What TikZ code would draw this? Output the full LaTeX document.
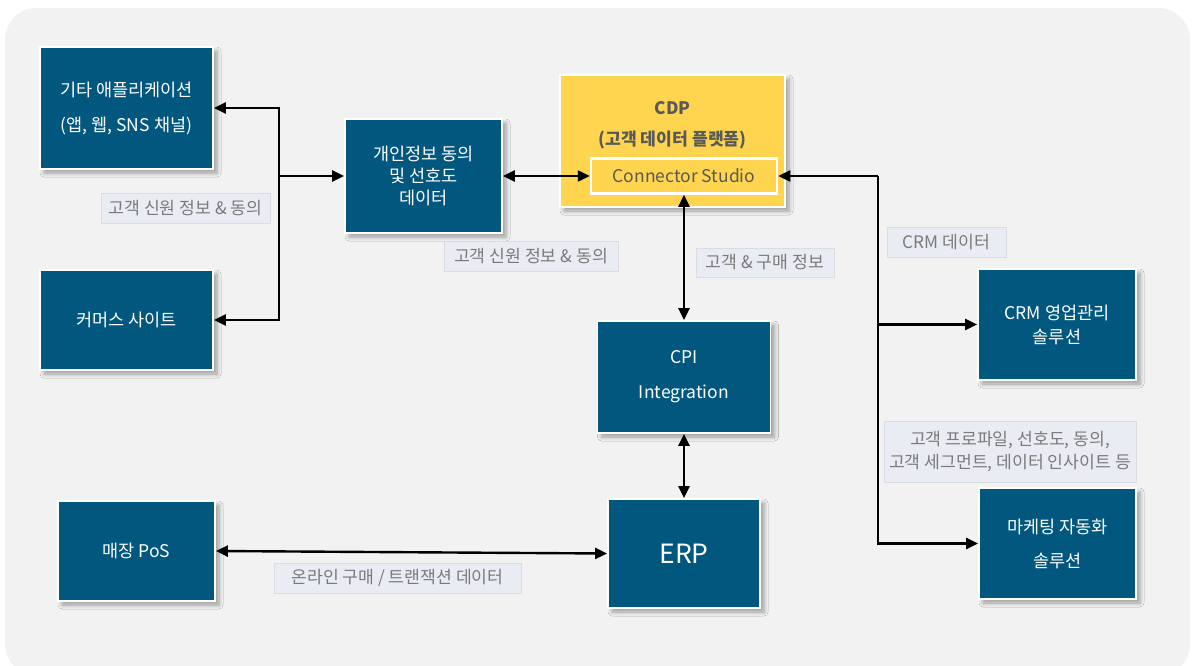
\documentclass[tikz,border=0pt]{standalone}
\usepackage{fontspec}
\setmainfont{Noto Sans CJK KR}
\usetikzlibrary{arrows.meta,shadows.blur}
\definecolor{bgc}{HTML}{F2F2F2}
\definecolor{boxc}{HTML}{02577F}
\definecolor{cdpc}{HTML}{FFD54F}
\definecolor{cdptext}{HTML}{595959}
\definecolor{lblfill}{HTML}{E9EDF3}
\definecolor{lbldraw}{HTML}{D9DDE3}
\definecolor{lbltext}{HTML}{7A7A7A}
\tikzset{
  sysbox/.style={draw=white, line width=1.8pt, fill=boxc, text=white, align=center,
    font=\fontsize{17.5}{22}\selectfont, inner sep=0pt,
    blur shadow={shadow xshift=4pt, shadow yshift=-4pt, shadow blur radius=4pt, shadow blur steps=6, shadow opacity=35}},
  cdpbox/.style={draw=white, line width=1.8pt, fill=cdpc, text=cdptext, align=center, inner sep=0pt,
    blur shadow={shadow xshift=4pt, shadow yshift=-4pt, shadow blur radius=4pt, shadow blur steps=6, shadow opacity=35}},
  studiobox/.style={draw=white, line width=2.5pt, fill=cdpc, text=cdptext, inner sep=0pt,
    font=\fontsize{17.5}{20}\selectfont},
  lbl/.style={draw=lbldraw, line width=0.8pt, fill=lblfill, text=lbltext, align=center,
    font=\fontsize{17.2}{23}\selectfont, inner sep=0pt},
  conn/.style={line width=2.4pt, -{Triangle[length=12pt,width=11pt]}},
  conn2/.style={line width=2.4pt, {Triangle[length=12pt,width=11pt]}-{Triangle[length=12pt,width=11pt]}},
}
\begin{document}
\begin{tikzpicture}[x=1pt,y=-1pt]
\useasboundingbox (0,0) rectangle (1199,666);
\fill[white] (0,0) rectangle (1199,666);
\fill[bgc, rounded corners=32pt] (5,8) rectangle (1190,676);
\fill[white] (0,666) rectangle (1199,680);

% boxes
\node[sysbox, minimum width=173pt, minimum height=122pt] (app) at (126.5,108)
  {기타 애플리케이션\\[13pt](앱, 웹, SNS 채널)};
\node[sysbox, minimum width=173pt, minimum height=100pt] (com) at (126.5,320) {커머스 사이트};
\node[sysbox, minimum width=157pt, minimum height=114pt] (priv) at (423.5,176)
  {개인정보 동의\\[0pt]및 선호도\\[0pt]데이터};
\node[cdpbox, minimum width=225pt, minimum height=132pt] (cdp) at (672.5,141) {};
\node[text=cdptext, font=\fontsize{17.2}{20}\selectfont\bfseries] (cdpt) at (672.5,108) {CDP};
\node[text=cdptext, font=\fontsize{17.2}{20}\selectfont\bfseries] (cdps) at (672.5,140) {(고객 데이터 플랫폼)};
\node[studiobox, minimum width=186pt, minimum height=35pt] (studio) at (684,176) {Connector Studio};
\node[sysbox, minimum width=173pt, minimum height=112pt] (cpi) at (684,377)
  {CPI\\[13pt]Integration};
\node[sysbox, minimum width=152pt, minimum height=109pt, font=\fontsize{26.5}{30}\selectfont] (erp) at (684,553.5) {ERP};
\node[sysbox, minimum width=157pt, minimum height=100pt] (pos) at (136.5,551) {매장 PoS};
\node[sysbox, minimum width=158pt, minimum height=111pt] (crm) at (1057,324.5)
  {CRM 영업관리\\[2pt]솔루션};
\node[sysbox, minimum width=157pt, minimum height=111pt] (mkt) at (1057.5,543.5)
  {마케팅 자동화\\[12pt]솔루션};

% connectors
\coordinate (j1) at (279,176);
\draw[conn] (j1) -- (priv.west);
\draw[conn] (j1) |- (app.east);
\draw[conn] (j1) |- (com.east);
\draw[conn2] (priv.east) -- (studio.west);
\draw[conn2] (studio.south) -- (cpi.north);
\draw[conn2] (cpi.south) -- (erp.north);
\draw[conn2] (pos.east) -- (erp.west);
\coordinate (j2) at (878,176);
\draw[conn] (j2) -- (studio.east);
\draw[conn] (j2) |- (crm.west);
\draw[conn] (j2) |- (mkt.west);

% labels
\node[lbl, minimum width=169pt, minimum height=30pt] (l1) at (185.5,208) {고객 신원 정보 \& 동의};
\node[lbl, minimum width=174pt, minimum height=30pt] (l2) at (531,256) {고객 신원 정보 \& 동의};
\node[lbl, minimum width=138pt, minimum height=29pt] (l3) at (765,262.5) {고객 \& 구매 정보};
\node[lbl, minimum width=119pt, minimum height=30pt] (l4) at (946.5,242) {CRM 데이터};
\node[lbl, minimum width=252pt, minimum height=61pt] (l5) at (1010,451.5)
  {고객 프로파일, 선호도, 동의,\\고객 세그먼트, 데이터 인사이트 등};
\node[lbl, minimum width=247pt, minimum height=30pt] (l6) at (397.5,578) {온라인 구매 / 트랜잭션 데이터};
\end{tikzpicture}
\end{document}
